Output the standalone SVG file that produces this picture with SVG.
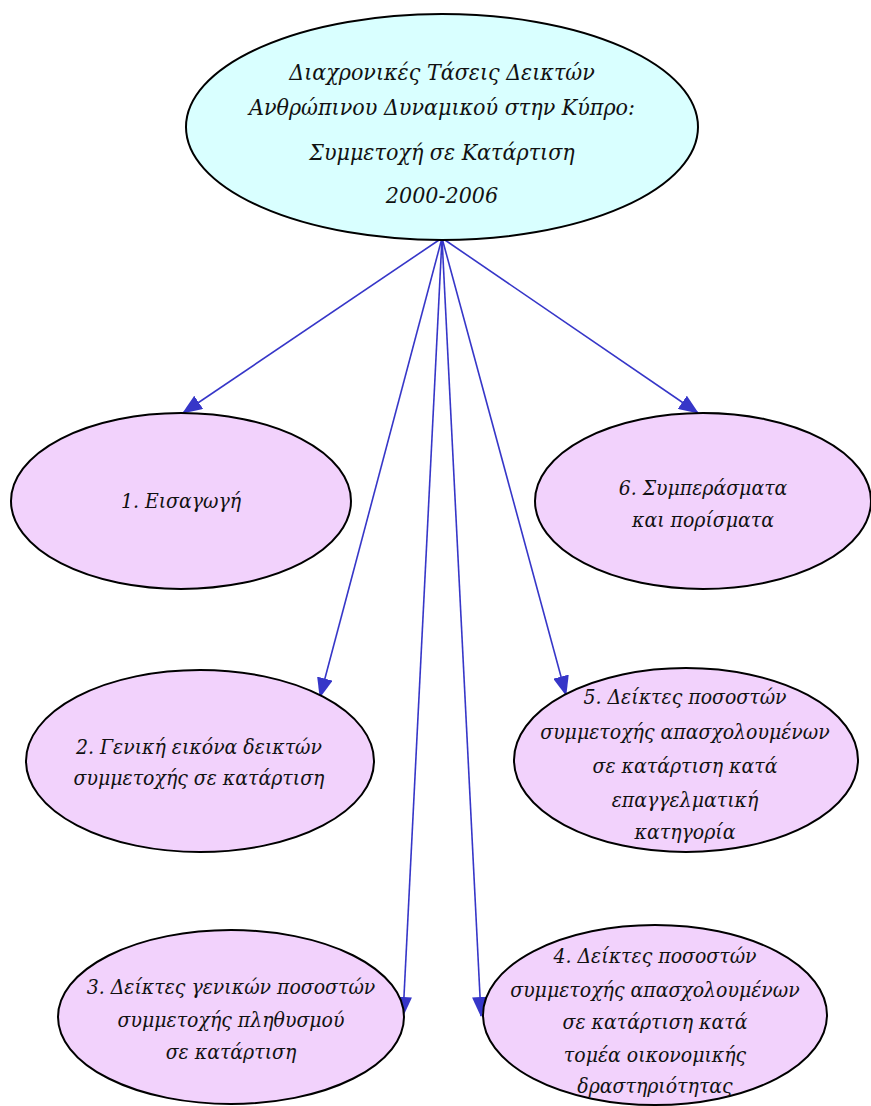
<svg xmlns="http://www.w3.org/2000/svg" width="871" height="1106" viewBox="0 0 871 1106">
<style>
.n{fill:#f2d2fc;stroke:#000;stroke-width:2}
.top{fill:#d9ffff;stroke:#000;stroke-width:2}
text{font-family:"DejaVu Serif Condensed","DejaVu Serif",serif;font-stretch:condensed;font-style:italic;font-size:21px;fill:#111;text-anchor:middle}
.t{font-size:23px}
.c{stroke:#3636c8;stroke-width:1.6;fill:none;marker-end:url(#ah)}
</style>
<defs>
<marker id="ah" markerWidth="20" markerHeight="16" refX="19" refY="8" orient="auto" markerUnits="userSpaceOnUse">
<path d="M0,0 L20,8 L0,16 Z" fill="#3636c8"/>
</marker>
</defs>
<g id="connectors">
<line class="c" x1="442" y1="238" x2="183" y2="413"/>
<line class="c" x1="442" y1="238" x2="698" y2="413"/>
<line class="c" x1="442" y1="238" x2="320" y2="697"/>
<line class="c" x1="442" y1="238" x2="566" y2="695"/>
<line class="c" x1="442" y1="238" x2="403" y2="1016"/>
<line class="c" x1="442" y1="238" x2="481" y2="1016"/>
</g>
<g id="root">
<ellipse class="top" cx="442" cy="127" rx="256" ry="113"/>
<text class="t" x="442" y="80">Διαχρονικές Τάσεις Δεικτών</text>
<text class="t" x="442" y="115">Ανθρώπινου Δυναμικού στην Κύπρο:</text>
<text class="t" x="442" y="160">Συμμετοχή σε Κατάρτιση</text>
<text class="t" x="442" y="203">2000-2006</text>
</g>
<g id="n1">
<ellipse class="n" cx="181" cy="501" rx="170" ry="88"/>
<text x="181" y="508">1. Εισαγωγή</text>
</g>
<g id="n6">
<ellipse class="n" cx="703" cy="501" rx="168" ry="88"/>
<text x="703" y="495">6. Συμπεράσματα</text>
<text x="703" y="527">και πορίσματα</text>
</g>
<g id="n2">
<ellipse class="n" cx="200" cy="761" rx="174" ry="91"/>
<text x="199" y="754">2. Γενική εικόνα δεικτών</text>
<text x="199" y="785">συμμετοχής σε κατάρτιση</text>
</g>
<g id="n5">
<ellipse class="n" cx="686" cy="760" rx="172" ry="92"/>
<text x="685" y="704">5. Δείκτες ποσοστών</text>
<text x="685" y="739">συμμετοχής απασχολουμένων</text>
<text x="685" y="773">σε κατάρτιση κατά</text>
<text x="685" y="807">επαγγελματική</text>
<text x="685" y="839">κατηγορία</text>
</g>
<g id="n3">
<ellipse class="n" cx="231" cy="1017" rx="173" ry="87"/>
<text x="231" y="994">3. Δείκτες γενικών ποσοστών</text>
<text x="231" y="1027">συμμετοχής πληθυσμού</text>
<text x="231" y="1059">σε κατάρτιση</text>
</g>
<g id="n4">
<ellipse class="n" cx="655" cy="1015" rx="172" ry="90"/>
<text x="655" y="963">4. Δείκτες ποσοστών</text>
<text x="655" y="997">συμμετοχής απασχολουμένων</text>
<text x="655" y="1029">σε κατάρτιση κατά</text>
<text x="655" y="1062">τομέα οικονομικής</text>
<text x="655" y="1093">δραστηριότητας</text>
</g>
</svg>
